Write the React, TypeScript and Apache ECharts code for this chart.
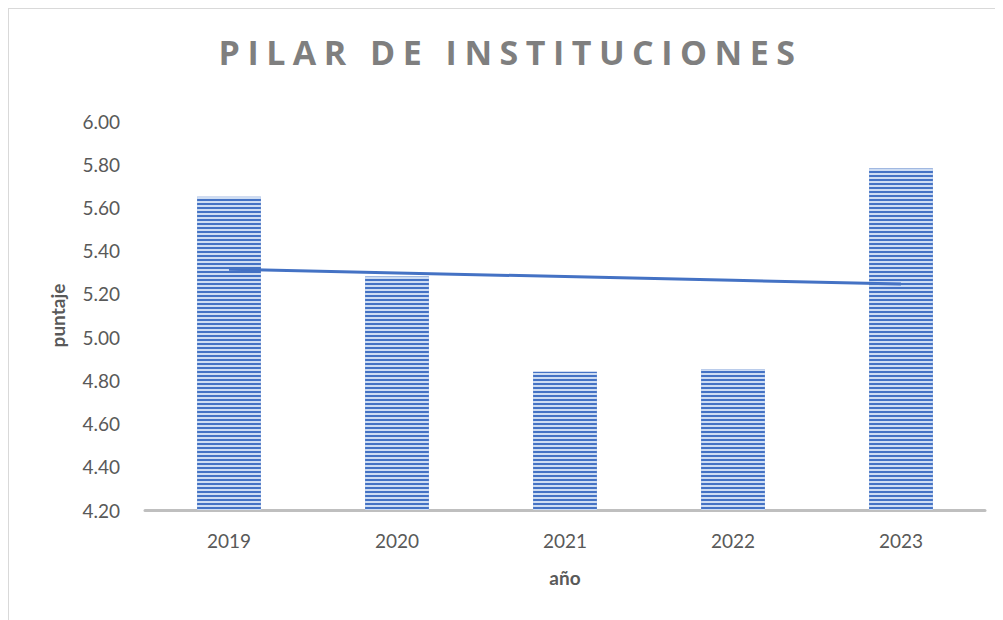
import React, { useEffect, useRef } from "react";
import * as echarts from "echarts";

const titleText = "PILAR DE INSTITUCIONES";
const categories = ["2019", "2020", "2021", "2022", "2023"];
const puntaje = [5.65, 5.28, 4.84, 4.85, 5.78];
const yMin = 4.2;
const yMax = 6.0;
const yStep = 0.2;

// linear trend (least squares) derived from the bar values
function trend(values: number[]): number[] {
  const n = values.length;
  const xs = values.map((_, i) => i + 1);
  const mx = xs.reduce((a, b) => a + b, 0) / n;
  const my = values.reduce((a, b) => a + b, 0) / n;
  let num = 0;
  let den = 0;
  for (let i = 0; i < n; i++) {
    num += (xs[i] - mx) * (values[i] - my);
    den += (xs[i] - mx) * (xs[i] - mx);
  }
  const slope = num / den;
  return xs.map((x) => my + slope * (x - mx));
}

export default function App() {
  const ref = useRef<HTMLDivElement>(null);
  useEffect(() => {
    if (!ref.current) return;
    const chart = echarts.init(ref.current, null, { renderer: "svg" });
    const font = "Lato, 'Noto Sans', sans-serif";
    chart.setOption({
      animation: false,
      backgroundColor: "#ffffff",
      title: {
        text: titleText,
        left: "center",
        top: 21,
        textStyle: {
          fontFamily: "'Open Sans', sans-serif",
          fontSize: 34,
          fontWeight: "bold",
          color: "#7f7f7f",
        },
      },
      grid: { left: 136, right: 27, top: 112, bottom: 119, containLabel: false },
      xAxis: {
        type: "category",
        data: categories,
        name: "año",
        nameLocation: "middle",
        nameGap: 58,
        nameTextStyle: { fontFamily: font, fontSize: 19, fontWeight: "bold", color: "#595959" },
        axisLine: { show: true, lineStyle: { color: "#bfbfbf", width: 3 } },
        axisTick: { show: false },
        axisLabel: { fontFamily: font, fontSize: 19, color: "#595959", margin: 21 },
      },
      yAxis: {
        type: "value",
        min: yMin,
        max: yMax,
        interval: yStep,
        name: "puntaje",
        nameLocation: "middle",
        nameGap: 78,
        nameTextStyle: { fontFamily: font, fontSize: 19, fontWeight: "bold", color: "#595959" },
        axisLine: { show: false },
        axisTick: { show: false },
        splitLine: { show: false },
        axisLabel: {
          fontFamily: font,
          fontSize: 19,
          color: "#595959",
          margin: 25,
          formatter: (v: number) => v.toFixed(2),
        },
      },
      series: [
        {
          type: "bar",
          data: puntaje,
          barWidth: "38%",
          itemStyle: {
            color: "#4472C4",
            decal: {
              symbol: "rect",
              symbolSize: 1,
              dashArrayX: [1, 0],
              dashArrayY: [2, 2],
              rotation: 0,
              color: "rgba(214,226,245,0.95)",
            },
          },
          silent: true,
        },
        {
          type: "line",
          data: trend(puntaje),
          symbol: "none",
          lineStyle: { color: "#4472C4", width: 3 },
          silent: true,
        },
      ],
    });
    const texts = ref.current.querySelectorAll("text");
    texts.forEach((t) => {
      if (t.textContent === titleText) {
        (t as SVGTextElement).style.letterSpacing = "7.5px";
      }
    });
    return () => chart.dispose();
  }, []);
  return (
    <div
      ref={ref}
      style={{ width: 1003, height: 620, border: "1px solid #d9d9d9" }}
    />
  );
}
